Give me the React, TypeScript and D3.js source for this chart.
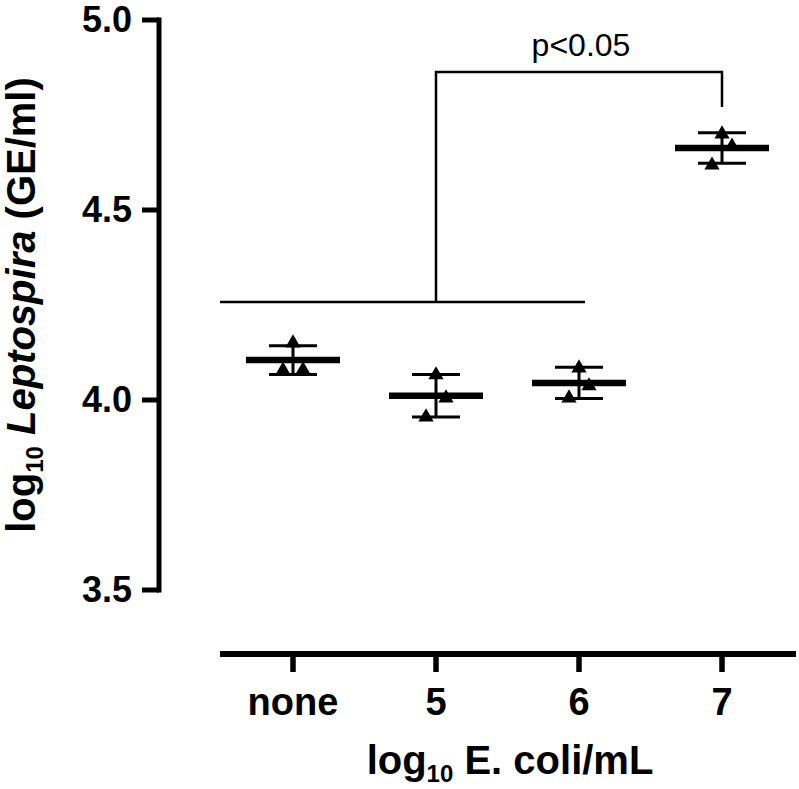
import React, { useEffect, useRef } from 'react';
import * as d3 from 'd3';

// groups on the x axis (log10 E. coli/mL)
const categories = ['none', '5', '6', '7'];

// individual replicates, log10 Leptospira (GE/ml)
const replicates: number[][] = [
  [4.150, 4.079, 4.078],
  [4.066, 4.005, 3.955],
  [4.084, 4.037, 4.005],
  [4.700, 4.668, 4.618],
];

// group mean and SD as drawn
const means = [4.105, 4.011, 4.045, 4.663];
const sds = [0.038, 0.056, 0.041, 0.040];

const yTicks = [3.5, 4.0, 4.5, 5.0];

// significance bracket (y values)
const bracketBase = 4.258;
const bracketTop = 4.863;
const bracketDrop = 4.771;
const pLabel = 'p<0.05';

const font = "'Liberation Sans', Arial, Helvetica, sans-serif";

const App: React.FC = () => {
  const ref = useRef<SVGSVGElement>(null);

  useEffect(() => {
    if (!ref.current) return;
    const svg = d3.select(ref.current);
    svg.selectAll('*').remove();

    const axisX = 159;
    const axisY = 654;

    const x = d3.scalePoint<string>().domain(categories).range([293, 722]);
    const y = d3.scaleLinear().domain([3.5, 5.0]).range([590, 20]);

    // y axis
    const yAxis = svg.append('g')
      .attr('transform', `translate(${axisX},0)`)
      .call(d3.axisLeft(y).tickValues(yTicks).tickSize(17).tickSizeOuter(0).tickPadding(10).offset(0)
        .tickFormat(d3.format('.1f') as any));
    yAxis.select('.domain').attr('stroke', '#000').attr('stroke-width', 5).attr('stroke-linecap', 'square');
    yAxis.selectAll('.tick line').attr('stroke', '#000').attr('stroke-width', 5);
    yAxis.selectAll('.tick text')
      .attr('fill', '#000')
      .style('font-family', font)
      .style('font-size', '36px')
      .style('font-weight', 'bold');

    // x axis
    svg.append('line')
      .attr('x1', 220).attr('x2', 796)
      .attr('y1', axisY).attr('y2', axisY)
      .attr('stroke', '#000').attr('stroke-width', 6);
    const xAxis = svg.append('g')
      .attr('transform', `translate(0,${axisY})`)
      .call(d3.axisBottom(x).tickSize(18).tickSizeOuter(0).offset(0));
    xAxis.select('.domain').remove();
    xAxis.selectAll('.tick line').attr('stroke', '#000').attr('stroke-width', 5.5);
    xAxis.selectAll('.tick text')
      .attr('fill', '#000')
      .attr('y', 61)
      .attr('dy', 0)
      .style('font-family', font)
      .style('font-size', '38px')
      .style('font-weight', 'bold');

    const plot = svg.append('g');

    // mean lines and SD bars
    categories.forEach((c, i) => {
      const cx = x(c) as number;
      plot.append('line')
        .attr('x1', cx).attr('x2', cx)
        .attr('y1', y(means[i] + sds[i])).attr('y2', y(means[i] - sds[i]))
        .attr('stroke', '#000').attr('stroke-width', 3);
      [means[i] + sds[i], means[i] - sds[i]].forEach(v => {
        plot.append('line')
          .attr('x1', cx - 24).attr('x2', cx + 24)
          .attr('y1', y(v)).attr('y2', y(v))
          .attr('stroke', '#000').attr('stroke-width', 3);
      });
      plot.append('line')
        .attr('x1', cx - 47).attr('x2', cx + 47)
        .attr('y1', y(means[i])).attr('y2', y(means[i]))
        .attr('stroke', '#000').attr('stroke-width', 6.5);
    });

    // replicate triangles, spread sideways by rank like the scatter dodge
    const tri = d3.symbol().type(d3.symbolTriangle).size(100);
    const dodge = [0, 10, -10];
    categories.forEach((c, i) => {
      const order = d3.range(replicates[i].length).sort((a, b) => replicates[i][b] - replicates[i][a]);
      order.forEach((k, rank) => {
        const v = replicates[i][k];
        plot.append('path')
          .attr('d', tri() as string)
          .attr('transform', `translate(${(x(c) as number) + dodge[rank]},${y(v)})`)
          .attr('fill', '#000');
      });
    });

    // significance bracket
    const bx = x('5') as number;
    const ex = x('7') as number;
    svg.append('line')
      .attr('x1', 220).attr('x2', (x('6') as number) + 6)
      .attr('y1', y(bracketBase)).attr('y2', y(bracketBase))
      .attr('stroke', '#000').attr('stroke-width', 2.5);
    svg.append('path')
      .attr('d', `M${bx},${y(bracketBase)}V${y(bracketTop)}H${ex}V${y(bracketDrop)}`)
      .attr('fill', 'none').attr('stroke', '#000').attr('stroke-width', 2.5);
    svg.append('text')
      .attr('x', (bx + ex) / 2 + 2)
      .attr('y', 56)
      .attr('text-anchor', 'middle')
      .style('font-family', font)
      .style('font-size', '32px')
      .text(pLabel);

    // x title
    const xt = svg.append('text')
      .attr('x', 510).attr('y', 774)
      .attr('text-anchor', 'middle')
      .style('font-family', font)
      .style('font-size', '40px')
      .style('font-weight', 'bold');
    xt.append('tspan').text('log');
    xt.append('tspan').attr('dy', 8).style('font-size', '24px').text('10');
    xt.append('tspan').attr('dy', -8).text(' E. coli/mL');

    // y title
    const yt = svg.append('text')
      .attr('transform', `translate(35,305) rotate(-90)`)
      .attr('text-anchor', 'middle')
      .style('font-family', font)
      .style('font-size', '40px')
      .style('font-weight', 'bold');
    yt.append('tspan').text('log');
    yt.append('tspan').attr('dy', 8).style('font-size', '24px').text('10');
    yt.append('tspan').attr('dy', -8).text(' ');
    yt.append('tspan').style('font-style', 'italic').text('Leptospira');
    yt.append('tspan').text(' (GE/ml)');
  }, []);

  return (
    <svg ref={ref} width={799} height={789}
      style={{ position: 'absolute', left: 0, top: 0, background: '#fff' }} />
  );
};

export default App;
